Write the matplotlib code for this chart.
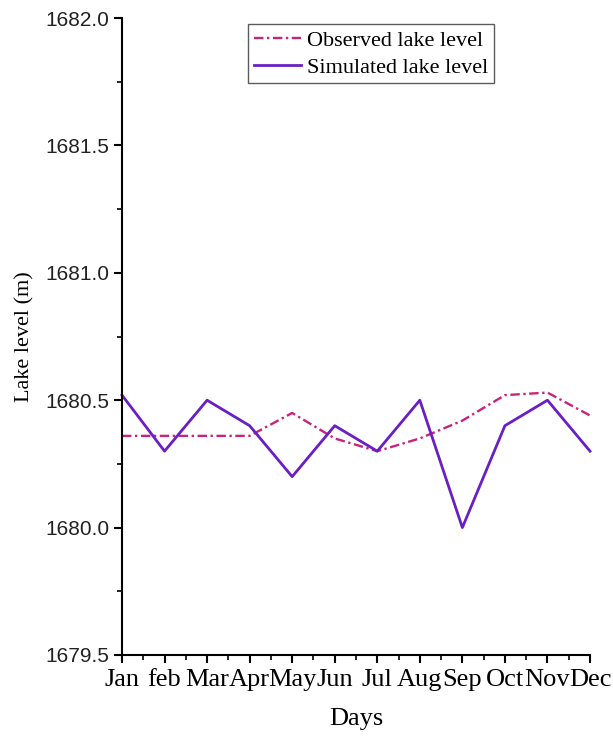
"""
Observed vs simulated monthly lake level
"""

import matplotlib.pyplot as plt
from matplotlib.ticker import MultipleLocator, AutoMinorLocator

months = ['Jan', 'feb', 'Mar', 'Apr', 'May', 'Jun', 'Jul', 'Aug', 'Sep', 'Oct', 'Nov', 'Dec']
observed = [1680.36, 1680.36, 1680.36, 1680.36, 1680.45, 1680.35, 1680.30, 1680.35, 1680.42, 1680.52, 1680.53, 1680.44]
simulated = [1680.52, 1680.30, 1680.50, 1680.40, 1680.20, 1680.40, 1680.30, 1680.50, 1680.00, 1680.40, 1680.50, 1680.30]

serif = 'Liberation Serif'
x = list(range(len(months)))

fig = plt.figure(figsize=(6.13, 7.38), dpi=100)
ax1 = fig.add_axes([0.199, 0.1125, 0.7635, 0.863])

ax1.plot(x, observed, color='#c8257a', ls=(0, (4, 1.5, 1, 1.5)), lw=1.7,
         label='Observed lake level', clip_on=False)
ax1.plot(x, simulated, color='#6a1fc4', ls='-', lw=2, label='Simulated lake level', clip_on=False)

ax1.set_xlim(0, 11)
ax1.set_ylim(1679.5, 1682.0)
ax1.set_xticks(x)
ax1.set_xticklabels(months, family=serif, fontsize=19)
ax1.xaxis.set_minor_locator(AutoMinorLocator(2))
ax1.yaxis.set_major_locator(MultipleLocator(0.5))
ax1.yaxis.set_minor_locator(MultipleLocator(0.25))
ax1.yaxis.set_major_formatter(plt.FormatStrFormatter('%.1f'))
for t in ax1.get_yticklabels():
    t.set_family('Liberation Sans')
    t.set_fontsize(15)
    t.set_color('#222222')

ax1.tick_params(which='major', direction='out', length=6, width=1.5, pad=3)
ax1.tick_params(which='minor', direction='out', length=3.5, width=1.2)
ax1.tick_params(axis='x', which='major', pad=4)
ax1.spines['top'].set_visible(False)
ax1.spines['right'].set_visible(False)
ax1.spines['left'].set_linewidth(1.5)
ax1.spines['bottom'].set_linewidth(1.5)

ax1.set_xlabel('Days', family=serif, fontsize=19, labelpad=12)
ax1.set_ylabel('Lake level (m)', family=serif, fontsize=16, labelpad=8)

leg = ax1.legend(loc='upper left', bbox_to_anchor=(0.27, 0.99), prop={'family': serif, 'size': 16},
                 frameon=True, fancybox=False, edgecolor='#333333', handlelength=2.1,
                 handletextpad=0.3, borderpad=0.25, labelspacing=0.3, borderaxespad=0)
leg.get_frame().set_linewidth(1.0)

plt.savefig('out.png', dpi=100)
